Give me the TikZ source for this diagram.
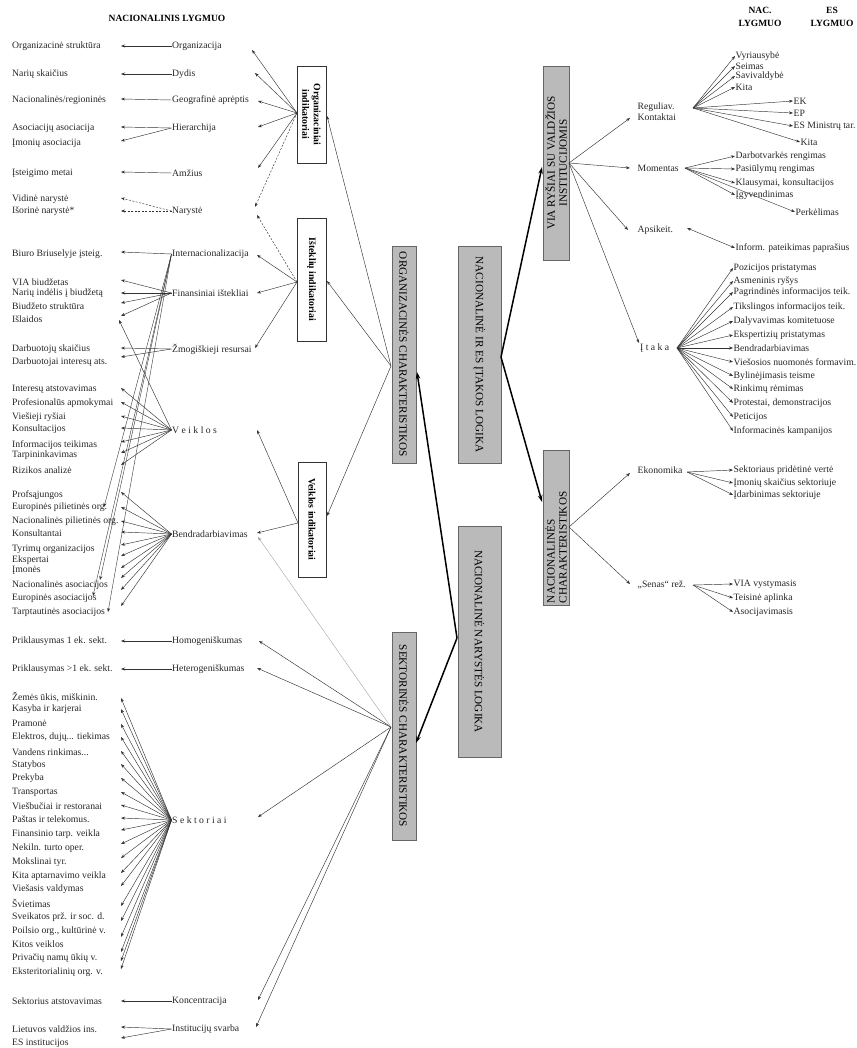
\documentclass[tikz,border=0pt]{standalone}
\usepackage{fontspec}
\setmainfont{Liberation Serif}
\usetikzlibrary{arrows.meta}
\begin{document}
\begin{tikzpicture}[x=1pt,y=-1pt,
  lbl/.style={font=\fontsize{9.7}{11}\selectfont, inner sep=0.5pt, anchor=west, text=black!85},
  hdr/.style={font=\bfseries\fontsize{9.5}{13}\selectfont, align=center, inner sep=0pt},
  arr/.style={-{Stealth[length=4pt,width=3pt]}, line width=0.45pt, draw=black!80},
  darr/.style={arr, dash pattern=on 2pt off 1.5pt},
  garr/.style={arr, draw=black!40, line width=0.35pt},
  thk/.style={-{Stealth[length=7pt,width=4.5pt]}, line width=1.5pt},
  darr2/.style={{Stealth[length=4pt,width=3pt]}-{Stealth[length=4pt,width=3pt]}, line width=0.45pt, draw=black!80},
  gbox/.style={draw=black!60, fill=black!27, line width=0.7pt, inner sep=0pt, font=\fontsize{11.2}{12}\selectfont},
  wbox/.style={draw=black!80, fill=white, line width=0.6pt, inner sep=0pt, font=\bfseries\fontsize{9.8}{11.5}\selectfont, align=center}]
\useasboundingbox (0,0) rectangle (856,1048);

% headers
\node[hdr] (hl) at (167,18) {NACIONALINIS LYGMUO};
\node[hdr] (hn) at (760,16.5) {NAC.\\LYGMUO};
\node[hdr] (he) at (832,16.5) {ES\\LYGMUO};

% boxes
\node[wbox, rotate=-90, minimum width=97pt, minimum height=29pt] (ob) at (311.5,114.5) {Organizaciniai\\indikatoriai};
\node[wbox, rotate=-90, minimum width=123pt, minimum height=29pt] (ib) at (311.5,279.5) {Išteklių indikatoriai};
\node[wbox, rotate=-90, minimum width=115pt, minimum height=28pt] (vb) at (312,519.5) {Veiklos indikatoriai};
\node[gbox, rotate=-90, minimum width=217pt, minimum height=24pt] (oc) at (404,354.5) {ORGANIZACINĖS CHARAKTERISTIKOS};
\node[gbox, rotate=-90, minimum width=217pt, minimum height=43pt] (nes) at (479.5,354.5) {NACIONALINĖ IR ES ĮTAKOS LOGIKA};
\node[gbox, rotate=-90, minimum width=231pt, minimum height=43pt] (nl) at (479.5,641.5) {NACIONALINĖ NARYSTĖS LOGIKA};
\node[gbox, rotate=-90, minimum width=208pt, minimum height=24pt] (sc) at (404,736) {SEKTORINĖS CHARAKTERISTIKOS};
\node[gbox, rotate=90, minimum width=194pt, minimum height=26pt, align=center] (via) at (556,163) {VIA RYŠIAI SU VALDŽIOS\\INSTITUCIJOMIS};
\node[gbox, rotate=90, minimum width=155pt, minimum height=26pt, text width=151pt, align=left] (ncc) at (556,527.5) {NACIONALINĖS\\CHARAKTERISTIKOS};

% connection points
\coordinate (of) at (297,113);
\coordinate (if) at (297,282);
\coordinate (vf) at (298,523);
\coordinate (ocf) at (391,366);
\coordinate (scf) at (391,727);
\coordinate (obin) at (327,116);
\coordinate (ibin) at (327,281);
\coordinate (vbin) at (327,516);
\coordinate (ocin) at (417,372);
\coordinate (nlf) at (457,638);
\coordinate (scin) at (416,743);
\coordinate (nesf) at (501,357);
\coordinate (viain) at (542,167);
\coordinate (nccin) at (542,502);
\coordinate (viaf) at (569,163);
\coordinate (nccf) at (569,527);

% middle column
\foreach \nm/\y/\txt in {Org/46/Organizacija, Dyd/74/Dydis, Geo/100/{Geografinė aprėptis},
  Hie/128/Hierarchija, Amz/173/Amžius, Nar/211/Narystė, Int/254/Internacionalizacija,
  Fin/293/{Finansiniai ištekliai}, Zmo/349/{Žmogiškieji resursai}, Vei/430/{V e i k l o s},
  Ben/534/Bendradarbiavimas, Hom/641/Homogeniškumas, Het/669/Heterogeniškumas,
  Sek/820/{S e k t o r i a i}, Kon/1001/Koncentracija, Ins/1029/{Institucijų svarba}}
  {\node[lbl] (\nm) at (171.5,\y) {\txt};}

% tips at middle column
\foreach \nm/\x/\y in {Org/252/50, Dyd/255/73, Geo/258/101, Hie/258/127, Amz/258/168,
  NarA/255/207, NarB/257/215, Int/257/255, Fin/257/293, Zmo/255/348, Vei/257/430,
  Ben/257/533, BenB/258/537, Hom/259/641, Het/257/668, Sek/258/817, Kon/258/1000, Ins/256/1027}
  {\coordinate (m\nm) at (\x,\y);}

% left column
\foreach \nm/\y/\ty/\txt in {
  o1/46/46/{Organizacinė struktūra}, o2/74/74/{Narių skaičius}, o3/100/99/{Nacionalinės/regioninės},
  o4/128/127/{Asociacijų asociacija}, o5/143/141/{Įmonių asociacija}, o6/173/172/{Įsteigimo metai},
  o7/199/198/{Vidinė narystė}, o8/211/211/{Išorinė narystė*},
  i1/254/252/{Biuro Briuselyje įsteig.}, i2/282/280/{VIA biudžetas}, i3/293/293/{Narių indėlis į biudžetą},
  i4/306/303/{Biudžeto struktūra}, i5/319/316/{Išlaidos}, i6/349/348/{Darbuotojų skaičius},
  i7/362/357/{Darbuotojai interesų ats.},
  v1/389/388/{Interesų atstovavimas}, v2/403/402/{Profesionalūs apmokymai}, v3/417/416/{Viešieji ryšiai},
  v4/429/428/{Konsultacijos}, v5/445/442/{Informacijos teikimas}, v6/455/453/{Tarpininkavimas},
  v7/470/465/{Rizikos analizė},
  b1/495/492/{Profsąjungos}, b2/507/507/{Europinės pilietinės org.}, b3/521/521/{Nacionalinės pilietinės org.},
  b4/533/532/{Konsultantai}, b5/549/545/{Tyrimų organizacijos}, b6/560/556/{Ekspertai}, b7/570/568/{Įmonės},
  b8/585/578/{Nacionalinės asociacijos}, b9/598/590/{Europinės asociacijos}, b10/612/606/{Tarptautinės asociacijos},
  h1/641/641/{Priklausymas 1 ek. sekt.}, h2/669/669/{Priklausymas >1 ek. sekt.},
  s1/697/698/{Žemės ūkis, miškinin.}, s2/709/709/{Kasyba ir karjerai}, s3/723/724/{Pramonė},
  s4/737/737/{Elektros, dujų... tiekimas}, s5/752/751/{Vandens rinkimas...}, s6/765/764/{Statybos},
  s7/778/778/{Prekyba}, s8/792/792/{Transportas}, s9/806/805/{Viešbučiai ir restoranai},
  s10/819/818/{Paštas ir telekomus.}, s11/834/830/{Finansinio tarp. veikla}, s12/848/844/{Nekiln. turto oper.},
  s13/862/858/{Mokslinai tyr.}, s14/876/873/{Kita aptarnavimo veikla}, s15/889/886/{Viešasis valdymas},
  s16/903/906/{Švietimas}, s17/917/921/{Sveikatos prž. ir soc. d.}, s18/931/937/{Poilsio org., kultūrinė v.},
  s19/944/952/{Kitos veiklos}, s20/958/961/{Privačių namų ūkių v.}, s21/972/969/{Eksteritorialinių org. v.},
  k1/1001/1001/{Sektorius atstovavimas}, l1/1029/1027/{Lietuvos valdžios ins.}, l2/1043/1038/{ES institucijos}}
  {\node[lbl] (\nm) at (11.5,\y) {\txt}; \coordinate (t\nm) at (121,\ty);}
\coordinate (ti5b) at (119,320);
\coordinate (xb2) at (104,507);
\coordinate (xb8) at (100,580);
\coordinate (xb9) at (93,596);
\coordinate (xb10) at (108,612);

% middle -> left arrows
\draw[arr] (Org.west) -- (to1);
\draw[arr] (Dyd.west) -- (to2);
\draw[arr] (Geo.west) -- (to3);
\foreach \nm in {o4,o5} \draw[arr] (Hie.west) -- (t\nm);
\draw[arr] (Amz.west) -- (to6);
\foreach \nm in {o7,o8} \draw[darr] (Nar.west) -- (t\nm);
\draw[arr] (Int.west) -- (ti1);
\foreach \nm in {i2,i3,i4,i5} \draw[arr] (Fin.west) -- (t\nm);
\foreach \nm in {i6,i7} \draw[arr] (Zmo.west) -- (t\nm);
\foreach \nm in {v1,v2,v3,v4,v5,v6,v7} \draw[arr] (Vei.west) -- (t\nm);
\draw[arr] (Vei.west) -- (ti5b);
\foreach \nm in {xb2,xb8,xb9,xb10} \draw[arr, line width=0.4pt] (Int.west) -- (\nm);
\foreach \nm in {b1,b2,b3,b4,b5,b6,b7,b8,b9,b10} \draw[arr] (Ben.west) -- (t\nm);
\draw[arr] (Hom.west) -- (th1);
\draw[arr] (Het.west) -- (th2);
\foreach \nm in {s1,s2,s3,s4,s5,s6,s7,s8,s9,s10,s11,s12,s13,s14,s15,s16,s17,s18,s19,s20,s21} \draw[arr] (Sek.west) -- (t\nm);
\draw[arr] (Kon.west) -- (tk1);
\foreach \nm in {l1,l2} \draw[arr] (Ins.west) -- (t\nm);

% indicator boxes -> middle
\foreach \nm in {Org,Dyd,Geo,Hie,Amz} \draw[arr] (of) -- (m\nm);
\draw[darr] (of) -- (mNarA);
\draw[darr] (if) -- (mNarB);
\foreach \nm in {Int,Fin,Zmo} \draw[arr] (if) -- (m\nm);
\foreach \nm in {Vei,Ben} \draw[arr] (vf) -- (m\nm);

% characteristics -> indicators / middle
\foreach \nm in {obin,ibin,vbin} \draw[arr] (ocf) -- (\nm);
\foreach \nm in {Hom,Het,Sek,Kon,Ins} \draw[arr] (scf) -- (m\nm);
\draw[garr] (scf) -- (mBenB);

% thick arrows
\draw[thk] (nlf) -- (ocin);
\draw[thk] (nlf) -- (scin);
\draw[thk] (nesf) -- (viain);
\draw[thk] (nesf) -- (nccin);

% right side: first level
\node[lbl, align=left] (rk) at (637,112) {Reguliav.\\Kontaktai};
\node[lbl] (mom) at (637,168) {Momentas};
\node[lbl] (aps) at (637,230) {Apsikeit.};
\node[lbl] (ita) at (639.5,348) {Į t a k a};
\node[lbl] (eko) at (637,470) {Ekonomika};
\node[lbl] (sen) at (637,585) {„Senas“ rež.};
\coordinate (trk) at (630,118);
\coordinate (tmom) at (630,168);
\coordinate (taps) at (628,230);
\coordinate (tita) at (639,343);
\coordinate (teko) at (630,473);
\coordinate (tsen) at (630,584);
\foreach \nm in {trk,tmom,taps,tita} \draw[arr] (viaf) -- (\nm);
\foreach \nm in {teko,tsen} \draw[arr] (nccf) -- (\nm);

\coordinate (rkf) at (693,108);
\coordinate (momf) at (685,168);
\coordinate (apsf) at (687,228);
\coordinate (itaf) at (677,348);
\coordinate (ekof) at (687,472);
\coordinate (senf) at (693,585);

% right side: leaves
\foreach \nm/\x/\y/\src/\txt in {
  r1/735/56/rkf/{Vyriausybė}, r2/735/66/rkf/{Seimas}, r3/735/76/rkf/{Savivaldybė}, r4/735/87/rkf/{Kita},
  r5/793/101/rkf/{EK}, r6/793/113/rkf/{EP}, r7/793/126/rkf/{ES Ministrų tar.}, r8/800/142/rkf/{Kita},
  m1/735/156/momf/{Darbotvarkės rengimas}, m2/735/169/momf/{Pasiūlymų rengimas},
  m3/735/183/momf/{Klausymai, konsultacijos}, m4/735/195/momf/{Įgyvendinimas}, m5/795/212/momf/{Perkėlimas},
  p1/733/268/itaf/{Pozicijos pristatymas}, p2/733/281/itaf/{Asmeninis ryšys},
  p3/733/292/itaf/{Pagrindinės informacijos teik.}, p4/733/307/itaf/{Tikslingos informacijos teik.},
  p5/733/321/itaf/{Dalyvavimas komitetuose}, p6/733/335/itaf/{Ekspertizių pristatymas},
  p7/733/348/itaf/{Bendradarbiavimas}, p8/733/362/itaf/{Viešosios nuomonės formavim.},
  p9/733/376/itaf/{Bylinėjimasis teisme}, p10/733/389/itaf/{Rinkimų rėmimas},
  p11/733/403/itaf/{Protestai, demonstracijos}, p12/733/417/itaf/{Peticijos},
  p13/733/431/itaf/{Informacinės kampanijos},
  e1/733/470/ekof/{Sektoriaus pridėtinė vertė}, e2/733/483/ekof/{Įmonių skaičius sektoriuje},
  e3/733/495/ekof/{Įdarbinimas sektoriuje},
  n1/733/584/senf/{VIA vystymasis}, n2/733/598/senf/{Teisinė aplinka}, n3/733/612/senf/{Asocijavimasis}}
  {\node[lbl] (\nm) at (\x,\y) {\txt}; \draw[arr] (\src) -- (\nm.west);}

\node[lbl] (inf) at (735,248) {Inform. pateikimas paprašius};
\draw[darr2] (apsf) -- (inf.west);
\end{tikzpicture}
\end{document}
